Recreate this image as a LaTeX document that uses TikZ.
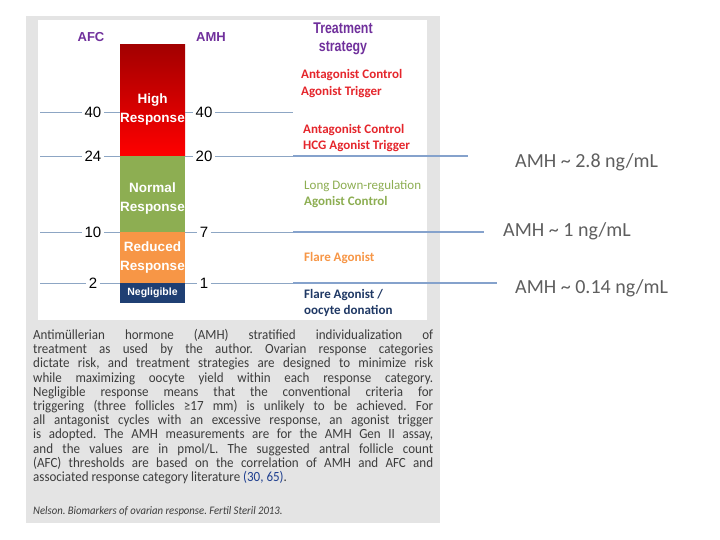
\documentclass[tikz,border=0pt]{standalone}
\usepackage{fontspec}
\setmainfont{Liberation Sans}
\newfontfamily\calfont{Carlito}
\newfontfamily\capfont[FakeStretch=0.93]{Carlito}
\newfontfamily\narrowfont[FakeStretch=0.8]{Liberation Sans}
\usetikzlibrary{positioning}
\frenchspacing

\definecolor{panelgray}{HTML}{E4E4E4}
\definecolor{titlepurple}{HTML}{70309C}
\definecolor{highred}{HTML}{FF0000}
\definecolor{darkred}{HTML}{A20000}
\definecolor{normgreen}{HTML}{8DAE52}
\definecolor{redorange}{HTML}{F79646}
\definecolor{negnavy}{HTML}{1F3F73}
\definecolor{stratred}{HTML}{E5262C}
\definecolor{stratgreen}{HTML}{8DAE52}
\definecolor{stratnavy}{HTML}{1F3864}
\definecolor{tickblue}{HTML}{8DA6C4}
\definecolor{cutblue}{HTML}{85A2CC}
\definecolor{captext}{HTML}{3C3C3C}
\definecolor{refblue}{HTML}{1F3F8F}
\definecolor{amhgray}{HTML}{5E5E5E}

\tikzset{
  band/.style={minimum width=65pt, inner sep=0pt, anchor=north},
  bandtext/.style={align=center, text=white, font=\bfseries\fontsize{13.5}{19}\selectfont},
  level/.style={font=\fontsize{15}{15}\selectfont, inner sep=2.5pt},
  tick/.style={tickblue, line width=0.8pt},
  cut/.style={cutblue, line width=2pt},
  head/.style={text=titlepurple, align=center, font=\bfseries\fontsize{13}{18}\selectfont},
  strat/.style={anchor=west, align=left, inner sep=0pt, font=\calfont\bfseries\fontsize{13}{16.5}\selectfont},
  amh/.style={anchor=west, inner sep=0pt, text=amhgray, font=\calfont\fontsize{20}{20}\selectfont}
}

\begin{document}
\begin{tikzpicture}[x=1pt,y=-1pt]
\useasboundingbox (0,0) rectangle (720,540);
\fill[panelgray] (26,16) rectangle (440,523);
\fill[white] (38,20) rectangle (427,320);

\node[head] (afchead) at (91,37) {AFC};
\node[head] (amhhead) at (211,37) {AMH};
\node[head, font=\narrowfont\bfseries\fontsize{15.5}{18.5}\selectfont] (treathead) at (343,39) {Treatment\\strategy};

% response bands
\node[band, minimum height=112pt, top color=darkred, bottom color=highred] (high) at (152.5,44) {};
\node[band, minimum height=76pt, fill=normgreen] (normal) at (152.5,156) {};
\node[band, minimum height=51pt, fill=redorange] (reduced) at (152.5,232) {};
\node[band, minimum height=20pt, fill=negnavy] (negligible) at (152.5,283) {};

\node[bandtext] (hightext) at (152.5,110) {High\\Response};
\node[bandtext] (normaltext) at (152.5,199) {Normal\\Response};
\node[bandtext] (reducedtext) at (152.5,258) {Reduced\\Response};
\node[bandtext, font=\bfseries\fontsize{10.5}{12}\selectfont] (negtext) at (152.5,293) {Negligible};

% thresholds
\foreach \i/\y/\afc/\amh in {1/112/40/40, 2/156/24/20, 3/232/10/7, 4/283/2/1} {
  \node[level] (afc\i) at (93,\y) {\afc};
  \node[level] (amh\i) at (204,\y) {\amh};
  \coordinate (tickL\i) at (40,\y);
  \coordinate (boxL\i) at (120,\y);
  \coordinate (boxR\i) at (185,\y);
  \coordinate (tickR\i) at (293,\y);
  \draw[tick] (tickL\i) -- (afc\i.west);
  \draw[tick] (afc\i.east) -- (boxL\i);
  \draw[tick] (boxR\i) -- (amh\i.west);
  \draw[tick] (amh\i.east) -- (tickR\i);
}

% strategies
\node[strat, text=stratred] (stratA) at (301,83.5) {Antagonist Control\\Agonist Trigger};
\node[strat, text=stratred] (stratB) at (303,138) {Antagonist Control\\HCG Agonist Trigger};
\node[strat, text=stratgreen] (stratC) at (304,194) {\mdseries Long Down-regulation\\\bfseries Agonist Control};
\node[strat, text=redorange] (stratD) at (304,258) {Flare Agonist};
\node[strat, text=stratnavy] (stratE) at (304,303) {Flare Agonist /\\oocyte donation};

% AMH in ng/mL
\foreach \i/\len in {2/175, 3/191, 4/204}
  \draw[cut] (tickR\i) -- ++(\len,0) coordinate (cutend\i);
\node[amh] (amhhigh) at (515,162) {AMH \textasciitilde{} 2.8 ng/mL};
\node[amh] (amhmid) at (503,231) {AMH \textasciitilde{} 1 ng/mL};
\node[amh] (amhlow) at (515,288) {AMH \textasciitilde{} 0.14 ng/mL};

\node[anchor=north west, inner sep=0pt, text width=400pt, align=justify, text=captext,
  font=\capfont\fontsize{14}{14.2}\selectfont] (caption) at (33,329)
  {Antimüllerian hormone (AMH) stratified individualization of\linebreak
   treatment as used by the author. Ovarian response categories\linebreak
   dictate risk, and treatment strategies are designed to minimize risk\linebreak
   while maximizing oocyte yield within each response category.\linebreak
   Negligible response means that the conventional criteria for\linebreak
   triggering (three follicles ≥17 mm) is unlikely to be achieved. For\linebreak
   all antagonist cycles with an excessive response, an agonist trigger\linebreak
   is adopted. The AMH measurements are for the AMH Gen II assay,\linebreak
   and the values are in pmol/L. The suggested antral follicle count\linebreak
   (AFC) thresholds are based on the correlation of AMH and AFC and\linebreak
   associated response category literature {\color{refblue}(30, 65)}.};
\node[anchor=west, inner sep=0pt, text=captext, font=\capfont\itshape\fontsize{11.5}{11.5}\selectfont]
  (source) at (33,511) {Nelson. Biomarkers of ovarian response. Fertil Steril 2013.};
\end{tikzpicture}
\end{document}
